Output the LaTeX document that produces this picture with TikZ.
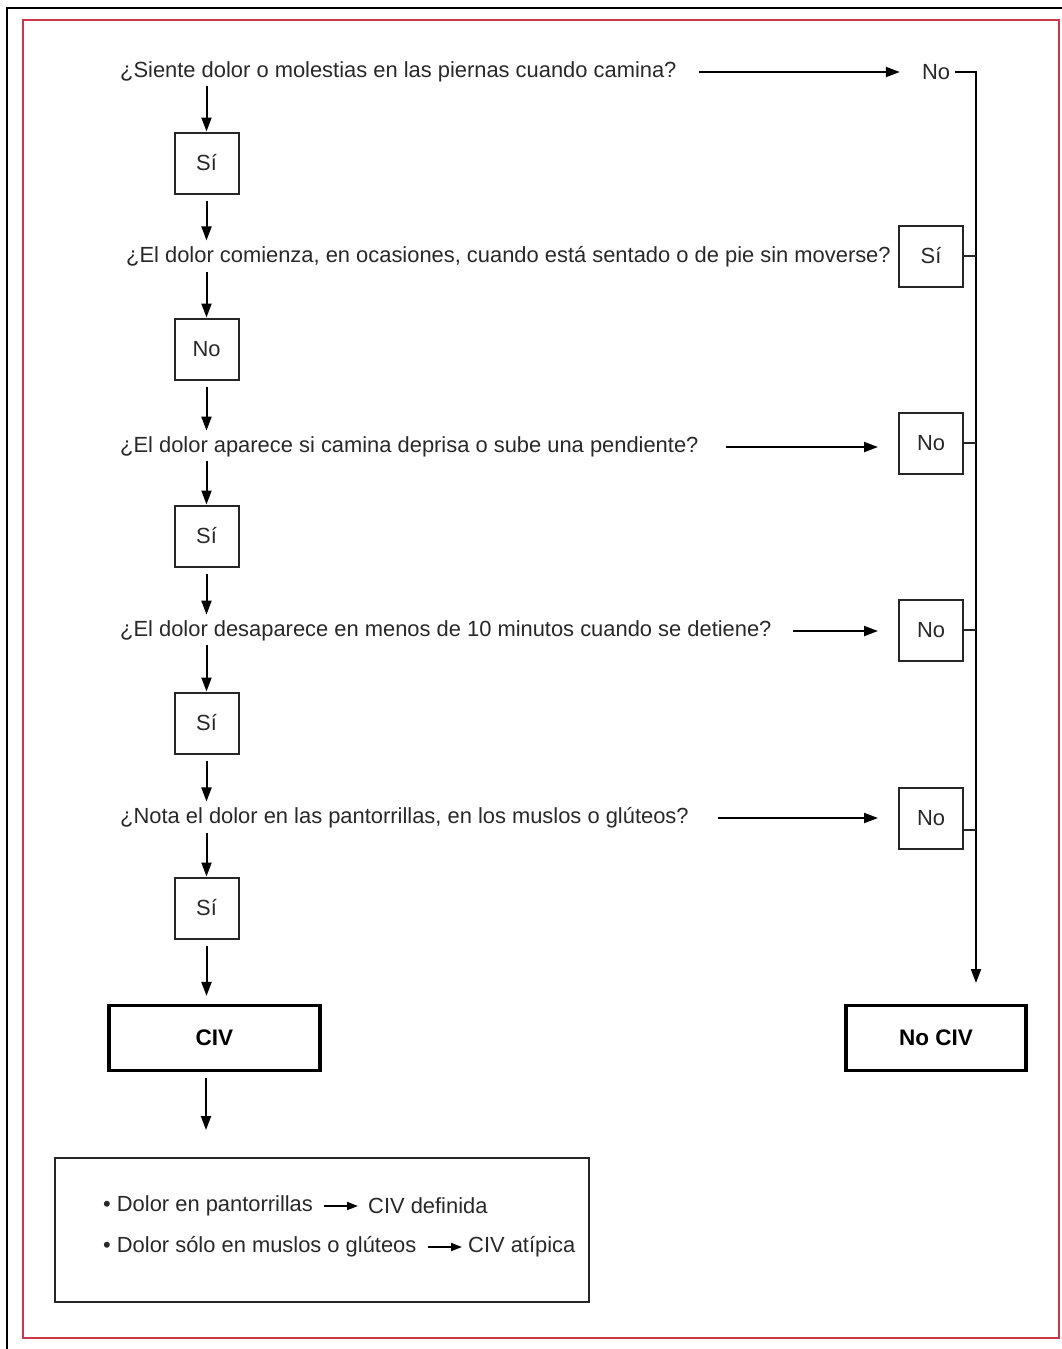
\documentclass[tikz,border=0pt]{standalone}
\usepackage{fontspec}
\setmainfont{Liberation Sans}
\usetikzlibrary{arrows.meta}
\definecolor{framered}{RGB}{205,55,75}
\definecolor{txt}{RGB}{40,40,40}
\tikzset{
  qtext/.style={inner sep=0pt, anchor=west, text=txt, font=\fontsize{21.9}{26}\selectfont},
  ansbox/.style={draw=black!85, line width=2pt, minimum width=64pt, minimum height=61pt, inner sep=0pt, text=txt, font=\fontsize{21.9}{26}\selectfont},
  endbox/.style={draw=black, line width=3.2pt, minimum height=65pt, inner sep=0pt, font=\bfseries\fontsize{22.5}{26}\selectfont},
  arr/.style={line width=2pt, -{Triangle[length=14pt,width=10pt]}},
  smallarr/.style={line width=1.8pt, -{Triangle[length=11pt,width=8pt]}},
  conn/.style={line width=2pt, draw=black!85},
}
\begin{document}
\begin{tikzpicture}[x=1pt,y=-1pt]
\useasboundingbox (0,0) rectangle (1062,1349);
% frames
\draw[line width=2pt, black] (7,1349) -- (7,8) -- (1062,8);
\draw[line width=2.2pt, framered] (23,20) rectangle (1059,1338);

% questions
\node[qtext] (q1) at (120,72) {¿Siente dolor o molestias en las piernas cuando camina?};
\node[qtext] (q2) at (126,257) {¿El dolor comienza, en ocasiones, cuando está sentado o de pie sin moverse?};
\node[qtext] (q3) at (120,447) {¿El dolor aparece si camina deprisa o sube una pendiente?};
\node[qtext] (q4) at (120,631) {¿El dolor desaparece en menos de 10 minutos cuando se detiene?};
\node[qtext] (q5) at (120,818) {¿Nota el dolor en las pantorrillas, en los muslos o glúteos?};

% left answer boxes
\node[ansbox] (s1) at (206.5,163) {Sí};
\node[ansbox] (n2) at (206.5,349) {No};
\node[ansbox] (s3) at (206.5,536) {Sí};
\node[ansbox] (s4) at (206.5,723) {Sí};
\node[ansbox] (s5) at (206.5,908) {Sí};

% right answers
\node[inner sep=0pt, text=txt, font=\fontsize{21.9}{26}\selectfont] (no1) at (936,72) {No};
\node[ansbox] (r2) at (931,256) {Sí};
\node[ansbox] (r3) at (931,443) {No};
\node[ansbox] (r4) at (931,630) {No};
\node[ansbox] (r5) at (931,818) {No};

% results
\node[endbox, minimum width=211pt] (civ) at (214.5,1038) {CIV};
\node[endbox, minimum width=180pt] (nociv) at (936,1038) {No CIV};
\coordinate (vbot) at (976,983);
\coordinate (civend) at (206,1130);

% bottom box
\node[draw=black!85, line width=2pt, minimum width=534pt, minimum height=144pt, inner sep=0pt] (note) at (322,1230) {};
\node[qtext] (b1a) at (103,1206) {• Dolor en pantorrillas};
\node[qtext] (b1b) at (368,1206) {CIV definida};
\node[qtext] (b2a) at (103,1247) {• Dolor sólo en muslos o glúteos};
\node[qtext] (b2b) at (468,1247) {CIV atípica};
\draw[smallarr] ([xshift=11pt]b1a.east) -- ([xshift=-10pt]b1b.west);
\draw[smallarr] ([xshift=11pt]b2a.east) -- ([xshift=-6pt]b2b.west);

% left column arrows
\draw[arr, shorten <=4pt] (s1.north |- q1.south) -- (s1.north);
\draw[arr, shorten <=6pt, shorten >=6pt] (s1.south) -- (s1.south |- q2.north);
\draw[arr, shorten <=4pt] (n2.north |- q2.south) -- (n2.north);
\draw[arr, shorten <=6pt, shorten >=6pt] (n2.south) -- (n2.south |- q3.north);
\draw[arr, shorten <=4pt] (s3.north |- q3.south) -- (s3.north);
\draw[arr, shorten <=6pt, shorten >=6pt] (s3.south) -- (s3.south |- q4.north);
\draw[arr, shorten <=4pt] (s4.north |- q4.south) -- (s4.north);
\draw[arr, shorten <=6pt, shorten >=6pt] (s4.south) -- (s4.south |- q5.north);
\draw[arr, shorten <=4pt] (s5.north |- q5.south) -- (s5.north);
\draw[arr, shorten <=6pt, shorten >=8pt] (s5.south) -- (s5.south |- civ.north);
\draw[arr, shorten <=6pt] (civend |- civ.south) -- (civend);

% horizontal arrows
\draw[arr, shorten <=22pt, shorten >=22pt] (q1.east) -- (q1.east -| no1.west);
\draw[arr, shorten <=27pt, shorten >=20pt] (q3.east) -- (q3.east -| r3.west);
\draw[arr, shorten <=21pt, shorten >=20pt] (q4.east) -- (q4.east -| r4.west);
\draw[arr, shorten <=29pt, shorten >=20pt] (q5.east) -- (q5.east -| r5.west);

% right collector
\draw[arr] ([xshift=5pt]no1.east) -| (vbot);
\draw[conn] (r2.east) -- (r2.east -| vbot);
\draw[conn] (r3.east) -- (r3.east -| vbot);
\draw[conn] (r4.east) -- (r4.east -| vbot);
\draw[conn] ([yshift=-12pt]r5.east) -- ([yshift=-12pt]r5.east -| vbot);
\end{tikzpicture}
\end{document}
